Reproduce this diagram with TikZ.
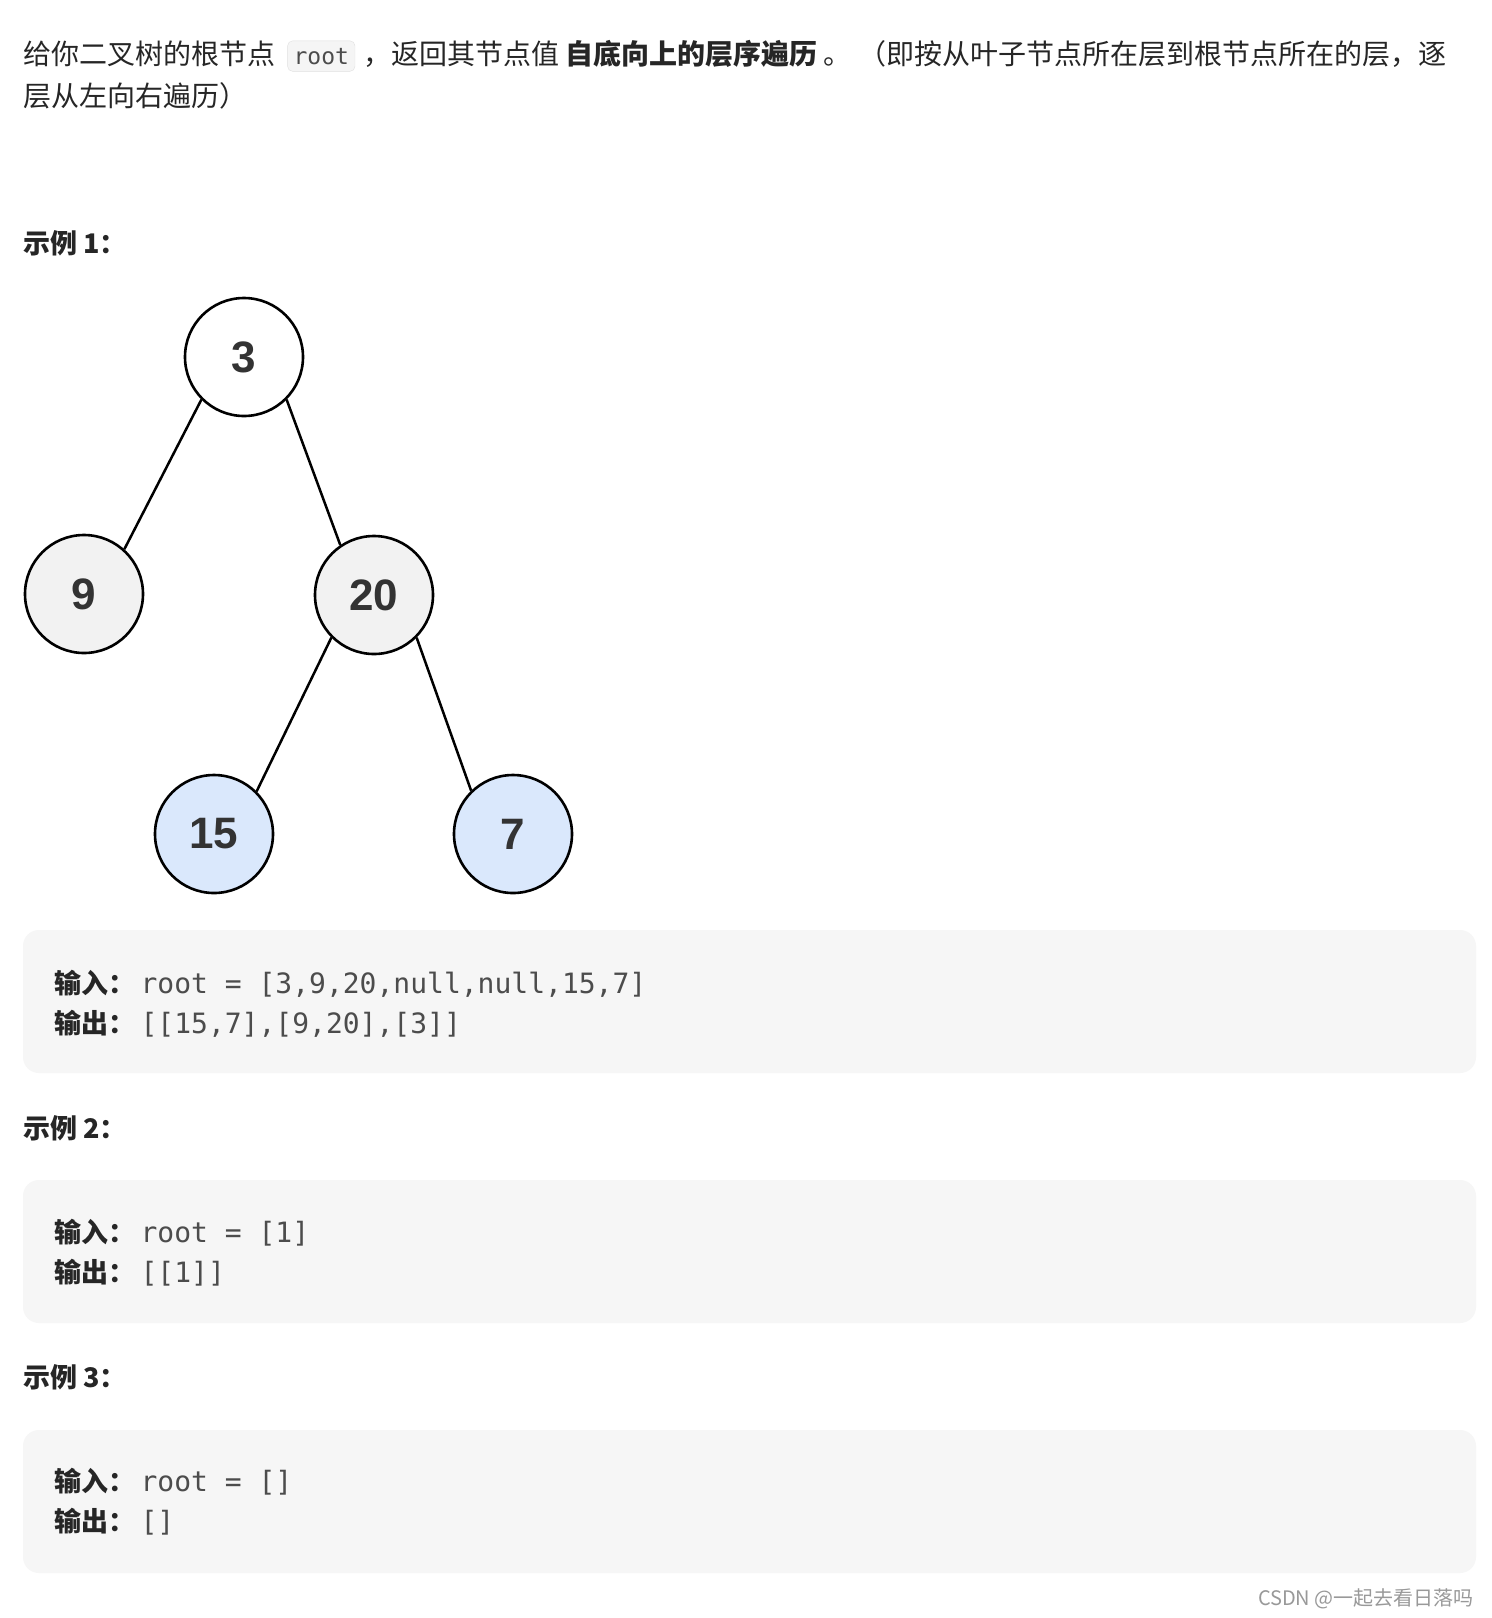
\documentclass[tikz,border=0pt]{standalone}
\usepackage{fontspec}
\setmainfont{Noto Sans CJK SC}
\newfontfamily\cjk{Noto Sans CJK SC}
\setmonofont{DejaVu Sans Mono}
\newfontfamily\numf{Liberation Sans}
\begin{document}
\begin{tikzpicture}[x=1pt,y=-1pt,
  txt/.style={anchor=base west,inner sep=0pt,font=\fontsize{28}{32}\selectfont\cjk,text=black!85},
  hd/.style={anchor=base west,inner sep=0pt,font=\fontsize{27}{30}\selectfont\bfseries,text=black!85},
  code/.style={anchor=base west,inner sep=0pt,font=\fontsize{28}{32}\selectfont\ttfamily,text=black!70},
  codebox/.style={fill=black!3.5,rounded corners=16pt,draw=none},
  tn/.style={circle,draw=black,line width=2.6pt,minimum size=118pt,inner sep=0pt,font=\fontsize{44}{48}\selectfont\numf\bfseries,text=black!80},
  edge/.style={line width=2.5pt}]
\useasboundingbox[fill=white] (0,0) rectangle (1492,1618);
% line 1
\node[txt] (t1) at (23,64) {给你二叉树的根节点};
\node[anchor=base west,font=\fontsize{23}{28}\selectfont\ttfamily,text=black!70,fill=black!4,draw=black!12,rounded corners=5pt,inner xsep=6pt,inner ysep=7pt] (rt) at ([xshift=12pt]t1.base east) {root};
\node[txt] (t2) at ([xshift=8pt]rt.base east) {，返回其节点值 {\bfseries 自底向上的层序遍历} 。 （即按从叶子节点所在层到根节点所在的层，逐};
\node[txt] (t3) at (23,106) {层从左向右遍历）};
\node[hd] (h1) at (23,253) {示例 1：};
% tree
\node[tn,fill=white] (n3) at (244,357) {3};
\node[tn,fill=black!5] (n9) at (84,594) {9};
\node[tn,fill=black!5] (n20) at (374,595) {20};
\node[tn,fill={rgb,255:red,218;green,232;blue,252}] (n15) at (214,834) {15};
\node[tn,fill={rgb,255:red,218;green,232;blue,252}] (n7) at (513,834) {7};
\draw[edge] (n3.225) -- (n9.48);
\draw[edge] (n3.315) -- (n20.124);
\draw[edge] (n20.225) -- (n15.45);
\draw[edge] (n20.315) -- (n7.134);
% boxes
\fill[codebox] (23,930) rectangle (1476,1073);
\node[hd] (a1) at (54,993) {输入：};
\node[code] (a1c) at ([xshift=5pt]a1.base east) {root = [3,9,20,null,null,15,7]};
\node[hd] (b1) at (54,1033) {输出：};
\node[code] (b1c) at ([xshift=5pt]b1.base east) {[[15,7],[9,20],[3]]};
\node[hd] (h2) at (23,1138) {示例 2：};
\fill[codebox] (23,1180) rectangle (1476,1323);
\node[hd] (a2) at (54,1242) {输入：};
\node[code] (a2c) at ([xshift=5pt]a2.base east) {root = [1]};
\node[hd] (b2) at (54,1282) {输出：};
\node[code] (b2c) at ([xshift=5pt]b2.base east) {[[1]]};
\node[hd] (h3) at (23,1387) {示例 3：};
\fill[codebox] (23,1430) rectangle (1476,1573);
\node[hd] (a3) at (54,1491) {输入：};
\node[code] (a3c) at ([xshift=5pt]a3.base east) {root = []};
\node[hd] (b3) at (54,1531) {输出：};
\node[code] (b3c) at ([xshift=5pt]b3.base east) {[]};
\node[anchor=base east,inner sep=0pt,font=\fontsize{20}{24}\selectfont\cjk,text=black!40] (wm) at (1474,1605) {CSDN @一起去看日落吗};
\end{tikzpicture}
\end{document}
